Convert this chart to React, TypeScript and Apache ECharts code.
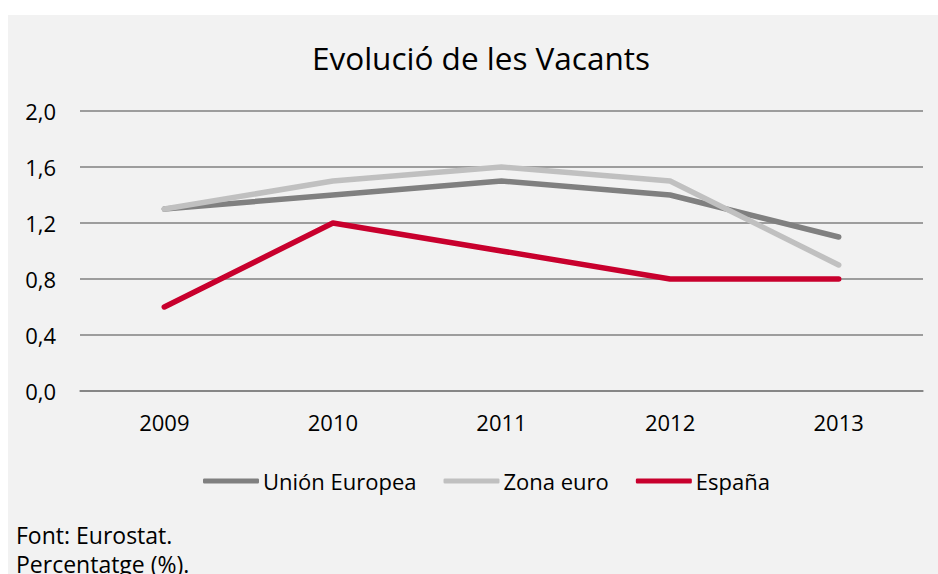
import React, { useEffect, useRef } from "react";
import * as echarts from "echarts";

const years = ["2009", "2010", "2011", "2012", "2013"];
const unionEuropea = [1.3, 1.4, 1.5, 1.4, 1.1];
const zonaEuro = [1.3, 1.5, 1.6, 1.5, 0.9];
const espana = [0.6, 1.2, 1.0, 0.8, 0.8];
const seriesNames = ["Unión Europea", "Zona euro", "España"];
const chartTitle = "Evolució de les Vacants";
const footnotes = ["Font: Eurostat.", "Percentatge (%)."];

const FONT = "'Open Sans', 'Noto Sans', sans-serif";

export default function App() {
  const ref = useRef<HTMLDivElement>(null);
  useEffect(() => {
    if (!ref.current) return;
    const chart = echarts.init(ref.current, undefined, { renderer: "svg" });
    const mkLine = (name: string, data: number[], color: string) => ({
      name,
      type: "line",
      data,
      symbol: "none",
      lineStyle: { width: 5.5, color, cap: "round", join: "round" },
      itemStyle: { color },
    });
    chart.setOption({
      animation: false,
      backgroundColor: "#ffffff",
      textStyle: { fontFamily: FONT },
      graphic: [
        {
          type: "rect",
          z: -10,
          silent: true,
          shape: { x: 8, y: 15, width: 930, height: 580 },
          style: { fill: "#f2f2f2" },
        },
        {
          type: "text",
          x: 481,
          y: 57,
          style: {
            text: chartTitle,
            fontFamily: FONT,
            fontSize: 31.5,
            fill: "#000",
            textAlign: "center",
            textVerticalAlign: "middle",
          },
        },
        {
          type: "text",
          x: 16,
          y: 535,
          style: {
            text: footnotes[0],
            fontFamily: FONT,
            fontSize: 23,
            fill: "#000",
            textAlign: "left",
            textVerticalAlign: "middle",
          },
        },
        {
          type: "text",
          x: 16,
          y: 564,
          style: {
            text: footnotes[1],
            fontFamily: FONT,
            fontSize: 23,
            fill: "#000",
            textAlign: "left",
            textVerticalAlign: "middle",
          },
        },
      ],
      grid: { left: 80, top: 111, width: 843, height: 280, containLabel: false },
      legend: {
        left: 203,
        top: 470,
        padding: 0,
        icon: "roundRect",
        itemWidth: 56,
        itemHeight: 5,
        itemGap: 27,
        data: seriesNames,
        textStyle: { fontFamily: FONT, fontSize: 22, color: "#000", padding: [0, 0, 0, -1] },
      },
      xAxis: {
        type: "category",
        data: years,
        boundaryGap: true,
        axisLine: { show: true, lineStyle: { color: "#808080", width: 1.5 } },
        axisTick: { show: false },
        axisLabel: { fontFamily: FONT, fontSize: 22, color: "#000", margin: 20 },
        splitLine: { show: false },
      },
      yAxis: {
        type: "value",
        min: 0,
        max: 2,
        interval: 0.4,
        axisLine: { show: false },
        axisTick: { show: false },
        axisLabel: {
          fontFamily: FONT,
          fontSize: 22,
          color: "#000",
          margin: 24,
          formatter: (v: number) => v.toFixed(1).replace(".", ","),
        },
        splitLine: { show: true, lineStyle: { color: "#808080", width: 1.5 } },
      },
      series: [
        mkLine(seriesNames[0], unionEuropea, "#808080"),
        mkLine(seriesNames[1], zonaEuro, "#c0c0c0"),
        mkLine(seriesNames[2], espana, "#c8002d"),
      ],
    });
    return () => chart.dispose();
  }, []);
  return (
    <div
      ref={ref}
      style={{ position: "absolute", left: 0, top: 0, width: 938, height: 574 }}
    />
  );
}
